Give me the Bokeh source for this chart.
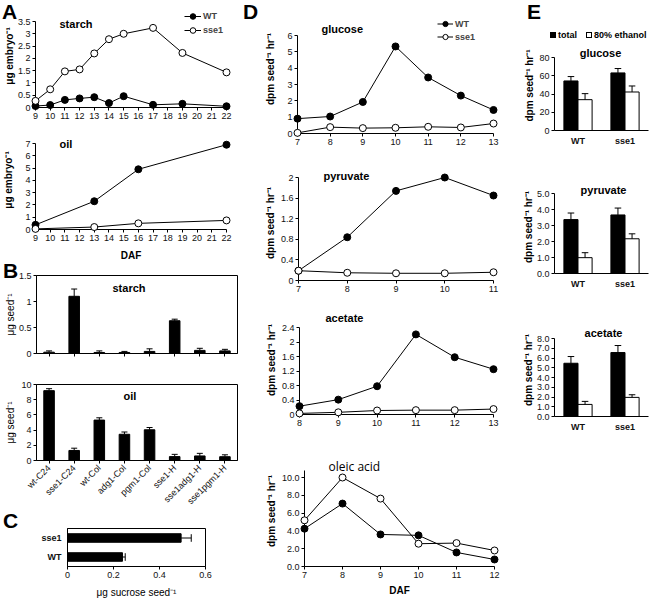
import math
from bokeh.plotting import figure
from bokeh.models import (Range1d, FactorRange, Label, Legend, LegendItem, FixedTicker,
                          CustomJSTickFormatter, ColumnDataSource, Div)
from bokeh.transform import dodge
from bokeh.embed import file_html
from bokeh.resources import INLINE

FONT = "Liberation Sans"

# ---------------- data ----------------
# A: starch and oil per embryo vs DAF
a_starch_daf = [9, 10, 11, 12, 13, 14, 15, 17, 19, 22]
a_starch_wt = [0.06, 0.10, 0.31, 0.37, 0.42, 0.18, 0.46, 0.11, 0.15, 0.05]
a_starch_sse1 = [0.27, 0.74, 1.47, 1.55, 2.20, 2.78, 3.00, 3.24, 2.22, 1.43]
a_oil_daf = [9, 13, 16, 22]
a_oil_wt = [0.38, 2.30, 4.90, 6.90]
a_oil_sse1 = [0.05, 0.20, 0.50, 0.74]
a_ticks = list(range(9, 23))

# B: starch and oil per seed, genotypes
b_lines = ["wt-C24", "sse1-C24", "wt-Col", "adg1-Col", "pgm1-Col", "sse1-H", "sse1adg1-H", "sse1pgm1-H"]
b_starch = [0.025, 1.10, 0.02, 0.02, 0.04, 0.63, 0.06, 0.05]
b_starch_err = [0.025, 0.14, 0.03, 0.02, 0.05, 0.03, 0.04, 0.03]
b_oil = [9.19, 1.32, 5.32, 3.45, 4.04, 0.51, 0.60, 0.50]
b_oil_err = [0.26, 0.30, 0.30, 0.30, 0.30, 0.30, 0.34, 0.25]

# C: sucrose per seed
c_lines = ["WT", "sse1"]
c_sucrose = [0.239, 0.494]
c_sucrose_err = [0.012, 0.044]

# D: incorporation vs DAF
d_glc_daf = [7, 8, 9, 10, 11, 12, 13]
d_glc_wt = [0.91, 1.04, 1.93, 5.33, 3.43, 2.32, 1.44]
d_glc_sse1 = [0.04, 0.39, 0.33, 0.35, 0.41, 0.37, 0.61]
d_pyr_daf = [7, 8, 9, 10, 11]
d_pyr_wt = [0.19, 0.84, 1.74, 2.00, 1.65]
d_pyr_sse1 = [0.19, 0.15, 0.14, 0.14, 0.16]
d_ace_daf = [8, 9, 10, 11, 12, 13]
d_ace_wt = [0.23, 0.41, 0.78, 2.21, 1.58, 1.25]
d_ace_sse1 = [0.03, 0.06, 0.11, 0.12, 0.12, 0.15]
d_ole_daf = [7, 8, 9, 10, 11, 12]
d_ole_wt = [4.25, 7.07, 3.60, 3.50, 1.58, 0.79]
d_ole_sse1 = [5.19, 10.0, 7.63, 2.56, 2.63, 1.80]

# E: total vs 80% ethanol fraction
e_lines = ["WT", "sse1"]
e_series = ["total", "80% ethanol"]
e_glc_total = [54.3, 63.1]
e_glc_total_err = [4.8, 4.8]
e_glc_eth = [33.8, 42.2]
e_glc_eth_err = [6.6, 6.6]
e_pyr_total = [3.37, 3.66]
e_pyr_total_err = [0.41, 0.43]
e_pyr_eth = [0.99, 2.17]
e_pyr_eth_err = [0.31, 0.31]
e_ace_total = [5.46, 6.56]
e_ace_total_err = [0.69, 0.72]
e_ace_eth = [1.24, 1.96]
e_ace_eth_err = [0.31, 0.27]

YLAB_D = "dpm seed\u207b\u00b9 hr\u207b\u00b9"


def fmt_g():
    return CustomJSTickFormatter(code="return String(Math.round(tick*1000)/1000);")


def fmt_1():
    return CustomJSTickFormatter(code="return tick.toFixed(1);")


def ext(top_tick, extra_px, span_px):
    # range end that leaves extra_px of free frame above the top tick
    return top_tick + extra_px * top_tick / span_px


def mk(px, py, xr, yr, fl, fw, fr, ft, fh, fb, outline=False):
    p = figure(x_range=xr, y_range=yr, width=fl + fw + fr, height=ft + fh + fb,
               min_border_left=fl, min_border_right=fr, min_border_top=ft, min_border_bottom=fb,
               output_backend="svg", toolbar_location=None,
               background_fill_color="white", border_fill_color="white",
               styles={"position": "absolute", "left": f"{px}px", "top": f"{py}px"})
    p.xgrid.visible = False
    p.ygrid.visible = False
    p.outline_line_color = "black" if outline else None
    for ax in list(p.xaxis) + list(p.yaxis):
        ax.axis_line_color = "black"
        ax.axis_line_width = 1
        ax.major_tick_line_color = "black"
        ax.minor_tick_line_color = None
        ax.major_tick_in = 0
        ax.major_tick_out = 3
        ax.major_label_text_font = FONT
        ax.major_label_text_font_size = "9px"
        ax.major_label_text_color = "#111111"
        ax.major_label_standoff = 2
        ax.axis_label_text_font = FONT
        ax.axis_label_text_font_style = "bold"
        ax.axis_label_text_font_size = "10px"
        ax.axis_label_text_color = "black"
        ax.axis_label_standoff = 2
    return p


def txt(p, x, y, s, size="11px", style="bold", align="left", baseline="middle", font=FONT):
    p.add_layout(Label(x=x, y=y, x_units="screen", y_units="screen", text=s,
                       text_font=font, text_font_size=size, text_font_style=style,
                       text_align=align, text_baseline=baseline, text_color="black"))


def letter(s, x, y):
    return Div(text=s, margin=(0, 0, 0, 0),
               styles={"position": "absolute", "left": f"{x}px", "top": f"{y}px",
                       "font-family": FONT, "font-size": "21px", "font-weight": "bold",
                       "line-height": "normal", "color": "black"})


def series(p, xs, ys, filled, size=7):
    src = ColumnDataSource(dict(x=xs, y=ys))
    rl = p.line("x", "y", source=src, line_color="black", line_width=1, level="overlay")
    rs = p.scatter("x", "y", source=src, marker="circle", size=size, line_color="black",
                   line_width=1, fill_color="black" if filled else "white", level="overlay")
    return rl, rs


def line_legend(p, wt, sse, loc, gw, gh):
    leg = Legend(items=[LegendItem(label="WT", renderers=list(wt)),
                        LegendItem(label="sse1", renderers=list(sse))],
                 location=loc, orientation="vertical", background_fill_alpha=0,
                 border_line_color=None, padding=0, margin=0, spacing=0,
                 glyph_width=gw, glyph_height=gh, label_height=gh, label_standoff=2,
                 label_text_font=FONT, label_text_font_size="9px",
                 label_text_font_style="bold")
    p.add_layout(leg)


# ---------------- column 1: A, B, C ----------------
pa1 = mk(0, 0, Range1d(9, 22), Range1d(0, ext(3.5, 17, 86)), 31, 195, 14, 4, 103, 18)
pa1.xaxis.ticker = FixedTicker(ticks=a_ticks)
pa1.yaxis.ticker = FixedTicker(ticks=[0, 0.5, 1, 1.5, 2, 2.5, 3, 3.5])
pa1.yaxis.bounds = (0, 3.5)
pa1.yaxis.formatter = fmt_g()
pa1.yaxis.axis_label = "\u03bcg embryo\u207b\u00b9"
pa1.yaxis.axis_label_standoff = 0
w1 = series(pa1, a_starch_daf, a_starch_wt, True)
s1 = series(pa1, a_starch_daf, a_starch_sse1, False)
line_legend(pa1, w1, s1, (149, 70), 17, 14)
txt(pa1, 24, 84, "starch")

pa2 = mk(0, 125, Range1d(9, 22), Range1d(0, ext(7, 13, 86)), 31, 195, 14, 5, 99, 36)
pa2.xaxis.ticker = FixedTicker(ticks=a_ticks)
pa2.yaxis.ticker = FixedTicker(ticks=list(range(0, 8)))
pa2.yaxis.bounds = (0, 7)
pa2.yaxis.axis_label = "\u03bcg embryo\u207b\u00b9"
pa2.yaxis.axis_label_standoff = 8
pa2.xaxis.axis_label = "DAF"
pa2.xaxis.axis_label_standoff = 6
series(pa2, a_oil_daf, a_oil_wt, True)
series(pa2, a_oil_daf, a_oil_sse1, False)
txt(pa2, 24, 86, "oil")


def b_panel(py, vals, errs, ft, fh, fb, ymax, ticks, show_labels):
    p = mk(0, py, FactorRange(factors=b_lines), Range1d(0, ymax), 36, 201, 3, ft, fh, fb, outline=True)
    src = ColumnDataSource(dict(cat=b_lines, v=vals, hi=[v + e for v, e in zip(vals, errs)]))
    p.vbar(x="cat", top="v", width=0.42, source=src, fill_color="black", line_color="black")
    p.segment(x0="cat", y0="v", x1="cat", y1="hi", source=src, line_color="black", line_width=1)
    p.segment(x0=dodge("cat", -0.12, range=p.x_range), y0="hi",
              x1=dodge("cat", 0.12, range=p.x_range), y1="hi", source=src,
              line_color="black", line_width=1)
    p.yaxis.ticker = FixedTicker(ticks=ticks)
    p.yaxis.formatter = fmt_g()
    p.yaxis.axis_label = "\u03bcg seed\u207b\u00b9"
    p.yaxis.axis_label_text_font_style = "normal"
    if show_labels:
        p.xaxis.major_label_orientation = math.pi / 4
        p.xaxis.major_label_standoff = 3
    else:
        p.xaxis.major_label_text_color = None
    return p


pb1 = b_panel(265, b_starch, b_starch_err, 10, 78, 17, 1.5, [0, 0.5, 1, 1.5], False)
pb1.yaxis.axis_label_standoff = 0
txt(pb1, 76, 66, "starch")
pb2 = b_panel(370, b_oil, b_oil_err, 14, 79, 49, 10, [0, 2, 4, 6, 8, 10], True)
pb2.yaxis.axis_label_standoff = 2
txt(pb2, 87, 65, "oil")

pc = mk(0, 512, Range1d(0, 0.6), FactorRange(factors=c_lines), 67, 138, 35, 16, 38, 34, outline=True)
csrc = ColumnDataSource(dict(cat=c_lines, v=c_sucrose,
                             hi=[v + e for v, e in zip(c_sucrose, c_sucrose_err)]))
pc.hbar(y="cat", right="v", height=0.45, source=csrc, fill_color="black", line_color="black")
pc.segment(x0="v", y0="cat", x1="hi", y1="cat", source=csrc, line_color="black")
pc.segment(x0="hi", y0=dodge("cat", -0.2, range=pc.y_range),
           x1="hi", y1=dodge("cat", 0.2, range=pc.y_range), source=csrc, line_color="black")
pc.xaxis.ticker = FixedTicker(ticks=[0, 0.2, 0.4, 0.6])
pc.xaxis.formatter = fmt_g()
pc.xaxis.axis_label = "\u03bcg sucrose seed\u207b\u00b9"
pc.xaxis.axis_label_text_font_style = "normal"
pc.xaxis.axis_label_standoff = 6
pc.yaxis.major_tick_out = 0
pc.yaxis.major_label_text_font_style = "bold"
pc.yaxis.major_label_standoff = 6

# ---------------- column 2: D ----------------
pd1 = mk(240, 0, Range1d(7, 13), Range1d(0, ext(6, 31, 98)), 57, 196, 7, 4, 129, 27)
pd1.xaxis.ticker = FixedTicker(ticks=d_glc_daf)
pd1.yaxis.ticker = FixedTicker(ticks=[0, 1, 2, 3, 4, 5, 6])
pd1.yaxis.bounds = (0, 6)
pd1.yaxis.axis_label = YLAB_D
pd1.yaxis.axis_label_standoff = 8
dw = series(pd1, d_glc_daf, d_glc_wt, True)
ds = series(pd1, d_glc_daf, d_glc_sse1, False)
line_legend(pd1, dw, ds, (140, 90), 16, 13)
txt(pd1, 24, 105, "glucose")

pd2 = mk(240, 160, Range1d(7, 11), Range1d(0, ext(2, 12, 103)), 58, 195, 7, 5, 115, 20)
pd2.xaxis.ticker = FixedTicker(ticks=d_pyr_daf)
pd2.yaxis.ticker = FixedTicker(ticks=[0, 0.4, 0.8, 1.2, 1.6, 2])
pd2.yaxis.bounds = (0, 2)
pd2.yaxis.formatter = fmt_g()
pd2.yaxis.axis_label = YLAB_D
series(pd2, d_pyr_daf, d_pyr_wt, True)
series(pd2, d_pyr_daf, d_pyr_sse1, False)
txt(pd2, 25, 105, "pyruvate")

pd3 = mk(240, 300, Range1d(8, 13), Range1d(0, ext(2.4, 22, 87)), 59, 194, 7, 5, 109, 33)
pd3.xaxis.ticker = FixedTicker(ticks=d_ace_daf)
pd3.yaxis.ticker = FixedTicker(ticks=[0, 0.4, 0.8, 1.2, 1.6, 2, 2.4])
pd3.yaxis.bounds = (0, 2.4)
pd3.yaxis.formatter = fmt_g()
pd3.yaxis.axis_label = YLAB_D
series(pd3, d_ace_daf, d_ace_wt, True)
series(pd3, d_ace_daf, d_ace_sse1, False)
txt(pd3, 26, 97, "acetate")

pd4 = mk(240, 447, Range1d(7, 12), Range1d(0, ext(10, 22, 89)), 64, 190, 6, 8, 111, 34)
pd4.xaxis.ticker = FixedTicker(ticks=d_ole_daf)
pd4.yaxis.ticker = FixedTicker(ticks=[0, 2, 4, 6, 8, 10])
pd4.yaxis.bounds = (0, 10.8)
pd4.yaxis.formatter = fmt_1()
pd4.yaxis.axis_label = YLAB_D
pd4.xaxis.axis_label = "DAF"
pd4.xaxis.axis_label_standoff = 4
series(pd4, d_ole_daf, d_ole_wt, True)
series(pd4, d_ole_daf, d_ole_sse1, False)
txt(pd4, 24, 100, "oleic acid", size="12px", style="normal", font="Open Sans")


# ---------------- column 3: E ----------------
def e_panel(py, tot, tot_err, eth, eth_err, ft, fh, fb, ymax, ytop, ticks, fmt):
    p = mk(500, py, FactorRange(factors=e_lines), Range1d(0, ymax), 54, 94, 8, ft, fh, fb)
    src = ColumnDataSource(dict(cat=e_lines, t=tot, th=[v + e for v, e in zip(tot, tot_err)],
                                e=eth, eh=[v + e for v, e in zip(eth, eth_err)]))
    xr = p.x_range
    p.vbar(x=dodge("cat", -0.15, range=xr), top="t", width=0.3, source=src,
           fill_color="black", line_color="black")
    p.vbar(x=dodge("cat", 0.15, range=xr), top="e", width=0.3, source=src,
           fill_color="white", line_color="black")
    for off, lo, hi in ((-0.15, "t", "th"), (0.15, "e", "eh")):
        p.segment(x0=dodge("cat", off, range=xr), y0=lo, x1=dodge("cat", off, range=xr), y1=hi,
                  source=src, line_color="black")
        p.segment(x0=dodge("cat", off - 0.07, range=xr), y0=hi,
                  x1=dodge("cat", off + 0.07, range=xr), y1=hi, source=src, line_color="black")
    p.yaxis.ticker = FixedTicker(ticks=ticks)
    p.yaxis.bounds = (0, ytop)
    p.yaxis.formatter = fmt
    p.yaxis.axis_label = YLAB_D
    p.yaxis.axis_label_standoff = 0
    p.xaxis.major_tick_out = 0
    p.xaxis.major_label_text_font_style = "bold"
    p.xaxis.major_label_standoff = 5
    return p


pe1 = e_panel(0, e_glc_total, e_glc_total_err, e_glc_eth, e_glc_eth_err,
              40, 90, 20, ext(80, 17, 73), 80, [0, 20, 40, 60, 80], fmt_g())
pe1.yaxis.axis_label_standoff = 1
txt(pe1, 46, 78, "glucose", align="center")

pe2 = e_panel(150, e_pyr_total, e_pyr_total_err, e_pyr_eth, e_pyr_eth_err,
              30, 93, 27, ext(5, 13, 80), 5, [0, 1, 2, 3, 4, 5], fmt_1())
txt(pe2, 49, 84, "pyruvate", align="center")

pe3 = e_panel(300, e_ace_total, e_ace_total_err, e_ace_eth, e_ace_eth_err,
              23, 93, 30, ext(8, 15, 78), 8, [0, 1, 2, 3, 4, 5, 6, 7, 8], fmt_1())
txt(pe3, 49, 84, "acetate", align="center")

# key for panel E
SW = ("display:inline-block;width:6px;height:6px;border:1px solid #000;"
      "vertical-align:0px;margin-right:2px;background:{}")
key_html = (f'<span style="{SW.format("#000")}"></span>{e_series[0]}'
            f'<span style="display:inline-block;width:9px"></span>'
            f'<span style="{SW.format("#fff")}"></span>{e_series[1]}')
ekey = Div(text=key_html, margin=(0, 0, 0, 0),
           styles={"position": "absolute", "left": "550px", "top": "29px",
                   "font-family": FONT, "font-size": "9px", "font-weight": "bold",
                   "line-height": "12px", "white-space": "nowrap", "color": "black"})

letters = [letter("A", 2, 0), letter("B", 3, 259), letter("C", 3, 509),
           letter("D", 243, 0), letter("E", 527, 0)]

roots = [pa1, pa2, pb1, pb2, pc, pd1, pd2, pd3, pd4, pe1, pe2, pe3, ekey] + letters
open("out.html", "w").write(file_html(roots, INLINE))
